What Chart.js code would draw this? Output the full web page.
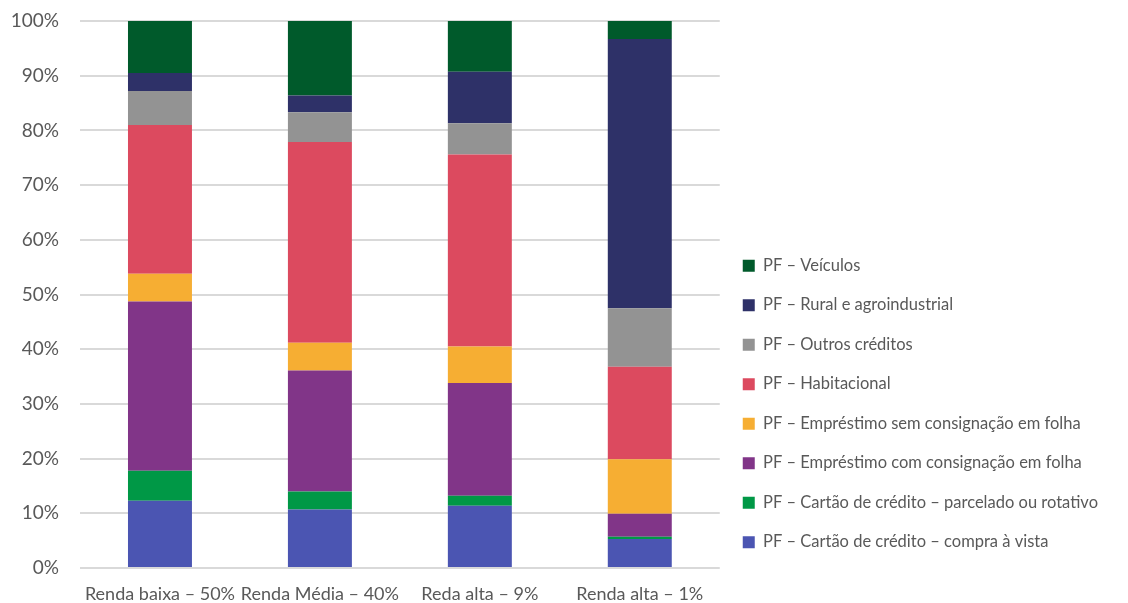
<!DOCTYPE html>
<html>
<head>
<meta charset="utf-8">
<script src="https://cdn.jsdelivr.net/npm/chart.js@4"></script>
<style>
  body { margin: 0; background: #fff; }
  #wrap { width: 1128px; height: 603px; }
</style>
</head>
<body>
<div id="wrap"><canvas id="credito"></canvas></div>
<script>
const categories = ["Renda baixa – 50%", "Renda Média – 40%", "Reda alta – 9%", "Renda alta – 1%"];

// participação (%) de cada modalidade por faixa de renda
const compraVista  = [12.3, 10.7, 11.4, 5.3];
const parcelado    = [5.5, 3.3, 1.8, 0.4];
const comConsig    = [30.9, 22.1, 20.6, 4.2];
const semConsig    = [5.1, 5.1, 6.7, 10.0];
const habitacional = [27.2, 36.7, 35.1, 16.9];
const outros       = [6.2, 5.4, 5.7, 10.7];
const rural        = [3.3, 3.1, 9.4, 49.2];
const veiculos     = [9.5, 13.6, 9.3, 3.3];

const yTicks = [0, 10, 20, 30, 40, 50, 60, 70, 80, 90, 100];

Chart.defaults.font.family = "Lato, 'Open Sans', sans-serif";
Chart.defaults.color = "#595959";

new Chart(document.getElementById("credito"), {
    type: "bar",
    data: {
        labels: categories,
        datasets: [
            { label: "PF – Cartão de crédito – compra à vista", data: compraVista, backgroundColor: "#4b55b2" },
            { label: "PF – Cartão de crédito – parcelado ou rotativo", data: parcelado, backgroundColor: "#009846" },
            { label: "PF – Empréstimo com consignação em folha", data: comConsig, backgroundColor: "#813588" },
            { label: "PF – Empréstimo sem consignação em folha", data: semConsig, backgroundColor: "#f6ae33" },
            { label: "PF – Habitacional", data: habitacional, backgroundColor: "#dc4a5f" },
            { label: "PF – Outros créditos", data: outros, backgroundColor: "#939393" },
            { label: "PF – Rural e agroindustrial", data: rural, backgroundColor: "#2e3168" },
            { label: "PF – Veículos", data: veiculos, backgroundColor: "#005a2b" }
        ]
    },
    options: {
        responsive: true,
        maintainAspectRatio: false,
        animation: false,
        layout: { padding: { top: 21, right: 20, bottom: 0, left: 0 } },
        datasets: { bar: { categoryPercentage: 1, barPercentage: 0.4 } },
        scales: {
            x: {
                stacked: true,
                grid: { display: false, drawTicks: false },
                border: { display: false },
                afterFit: (axis) => { axis.height = 35; },
                ticks: { font: { size: 18 }, padding: 15, maxRotation: 0, autoSkip: false }
            },
            y: {
                stacked: true,
                min: 0,
                max: 100,
                afterBuildTicks: (axis) => { axis.ticks = yTicks.map(v => ({ value: v })); },
                afterFit: (axis) => {
                    axis.width = 80;
                    axis.paddingTop = 0;
                    axis.paddingBottom = 0;
                },
                grid: { color: "#d9d9d9", lineWidth: 2, drawTicks: false },
                border: { display: false },
                ticks: { font: { size: 19 }, padding: 21, callback: v => v + "%" }
            }
        },
        plugins: {
            tooltip: { enabled: false },
            legend: {
                position: "right",
                align: "start",
                reverse: true,
                maxWidth: 420,
                title: { display: true, text: " ", padding: { top: 199, bottom: 0 } },
                labels: {
                    boxWidth: 12,
                    boxHeight: 12,
                    padding: 23,
                    font: { size: 16.5 },
                    color: "#595959"
                }
            }
        }
    }
});
</script>
</body>
</html>
